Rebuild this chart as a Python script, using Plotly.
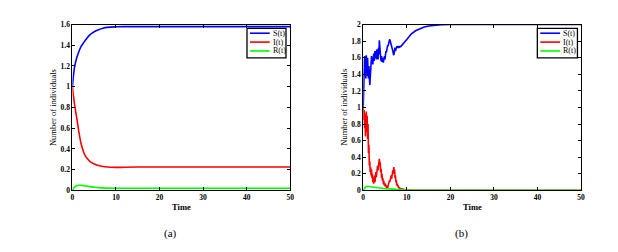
import plotly.graph_objects as go

W, H = 618, 252
OFF = 8  # page body margin in the browser

# ---------------- Panel (a): deterministic ----------------
t_a = [0, 0.25, 0.5, 0.75, 1, 1.5, 2, 2.5, 3, 4, 5, 6, 7, 8, 10, 12, 15, 20, 30, 40, 50]
S_a = [1.0, 1.11, 1.19, 1.24, 1.28, 1.34, 1.39, 1.42, 1.45, 1.50, 1.53, 1.55, 1.565, 1.573, 1.578, 1.58, 1.58, 1.58, 1.58, 1.58, 1.58]
I_a = [1.0, 0.91, 0.83, 0.76, 0.70, 0.56, 0.45, 0.38, 0.33, 0.28, 0.255, 0.24, 0.23, 0.225, 0.222, 0.223, 0.225, 0.225, 0.225, 0.225, 0.225]
R_a = [0.0, 0.02, 0.032, 0.041, 0.046, 0.05, 0.049, 0.046, 0.042, 0.036, 0.031, 0.027, 0.024, 0.022, 0.021, 0.021, 0.021, 0.021, 0.021, 0.021, 0.021]

# ---------------- Panel (b): stochastic ----------------
t_b_noisy = [round(0.1 * k, 1) for k in range(91)]  # 0.0 .. 9.0
S_b_noisy = [1.00, 1.35, 1.55, 1.62, 1.40, 1.58, 1.35, 1.63, 1.45, 1.38,
             1.60, 1.42, 1.35, 1.50, 1.30, 1.27, 1.35, 1.48, 1.58, 1.62,
             1.55, 1.60, 1.52, 1.58, 1.65, 1.56, 1.62, 1.68, 1.60, 1.66,
             1.58, 1.70, 1.62, 1.68, 1.58, 1.72, 1.64, 1.81, 1.65, 1.70,
             1.60, 1.56, 1.62, 1.55, 1.60, 1.58, 1.54, 1.60, 1.56, 1.62,
             1.58, 1.65, 1.68, 1.66, 1.72, 1.70, 1.75, 1.74, 1.78, 1.80,
             1.81, 1.82, 1.80, 1.81, 1.78, 1.76, 1.74, 1.72, 1.68, 1.65,
             1.63, 1.66, 1.70, 1.72, 1.68, 1.70, 1.73, 1.74, 1.72, 1.73,
             1.74, 1.72, 1.73, 1.74, 1.73, 1.73, 1.735, 1.74, 1.745, 1.75,
             1.755]
I_b_noisy = [1.00, 0.85, 0.97, 0.75, 0.92, 0.65, 0.88, 0.95, 0.70, 0.90,
             0.62, 0.80, 0.45, 0.55, 0.30, 0.35, 0.22, 0.28, 0.18, 0.25,
             0.15, 0.20, 0.10, 0.14, 0.08, 0.12, 0.18, 0.10, 0.15, 0.22,
             0.16, 0.25, 0.20, 0.30, 0.24, 0.33, 0.28, 0.38, 0.30, 0.34,
             0.22, 0.26, 0.15, 0.20, 0.12, 0.15, 0.08, 0.12, 0.06, 0.09,
             0.05, 0.08, 0.04, 0.06, 0.03, 0.05, 0.03, 0.06, 0.05, 0.09,
             0.12, 0.10, 0.15, 0.12, 0.18, 0.14, 0.20, 0.18, 0.24, 0.20,
             0.28, 0.22, 0.25, 0.15, 0.18, 0.10, 0.12, 0.06, 0.08, 0.05,
             0.06, 0.03, 0.04, 0.02, 0.03, 0.02, 0.02, 0.015, 0.02, 0.01,
             0.015]
R_b_noisy = [0.000, 0.012, 0.022, 0.030, 0.036, 0.041, 0.044, 0.046, 0.048, 0.049,
             0.050, 0.049, 0.048, 0.047, 0.046, 0.045, 0.044, 0.043, 0.042, 0.041,
             0.040, 0.039, 0.038, 0.037, 0.036, 0.035, 0.034, 0.034, 0.033, 0.033,
             0.032, 0.032, 0.031, 0.031, 0.030, 0.030, 0.030, 0.029, 0.029, 0.028,
             0.027, 0.027, 0.026, 0.025, 0.024, 0.024, 0.023, 0.022, 0.021, 0.021,
             0.020, 0.019, 0.019, 0.018, 0.017, 0.017, 0.016, 0.016, 0.015, 0.015,
             0.015, 0.015, 0.015, 0.015, 0.015, 0.015, 0.015, 0.016, 0.016, 0.016,
             0.016, 0.016, 0.016, 0.015, 0.015, 0.014, 0.014, 0.013, 0.013, 0.012,
             0.012, 0.011, 0.011, 0.010, 0.010, 0.009, 0.009, 0.008, 0.008, 0.008,
             0.007]
t_b_tail = [9.5, 10, 10.5, 11, 12, 13, 14, 15, 16, 18, 20, 25, 30, 40, 50]
S_b_tail = [1.79, 1.82, 1.86, 1.885, 1.925, 1.952, 1.970, 1.983, 1.990, 1.997, 2.0, 2.0, 2.0, 2.0, 2.0]
I_b_tail = [0.01, 0.005, 0.003, 0.002, 0.001, 0, 0, 0, 0, 0, 0, 0, 0, 0, 0]
R_b_tail = [0.006, 0.005, 0.004, 0.003, 0.002, 0.001, 0, 0, 0, 0, 0, 0, 0, 0, 0]

t_b = t_b_noisy + t_b_tail
S_b = S_b_noisy + S_b_tail
I_b = I_b_noisy + I_b_tail
R_b = R_b_noisy + R_b_tail

x_ticks = [0, 10, 20, 30, 40, 50]
y_ticks_a = [0, 0.2, 0.4, 0.6, 0.8, 1, 1.2, 1.4, 1.6]
y_ticks_b = [0, 0.2, 0.4, 0.6, 0.8, 1, 1.2, 1.4, 1.6, 1.8, 2]
labels = ["S(t)", "I(t)", "R(t)"]
colors = ["#0000ff", "#ff0000", "#00ff00"]
x_title = "Time"
y_title = "Number of individuals"
captions = ["(a)", "(b)"]


def px(x):
    return (x - OFF) / W


def py(y):
    return 1 - (y - OFF) / H


fig = go.Figure()
for series, c, name in zip([S_a, I_a, R_a], colors, labels):
    fig.add_trace(go.Scatter(x=t_a, y=series, mode="lines", line=dict(color=c, width=1.6, shape="spline"),
                             name=name, xaxis="x", yaxis="y", showlegend=False))
for series, c, name in zip([S_b, I_b, R_b], colors, labels):
    fig.add_trace(go.Scatter(x=t_b, y=series, mode="lines", line=dict(color=c, width=1.6),
                             name=name, xaxis="x2", yaxis="y2", showlegend=False))

tickfont = dict(family="Liberation Serif", size=7.5, color="black", weight="bold")
ax_common = dict(showline=True, linecolor="black", linewidth=1, mirror="ticks", ticks="inside",
                 ticklen=3, tickcolor="black", showgrid=False, zeroline=False, tickfont=tickfont)

dom_a = [px(71), px(291)]
dom_b = [px(364.7), px(584.7)]
dom_y = [py(193), py(21)]

fig.update_layout(
    width=W, height=H, margin=dict(l=0, r=0, t=0, b=0),
    paper_bgcolor="white", plot_bgcolor="white",
    xaxis=dict(domain=dom_a, range=[0, 50], tickvals=x_ticks, anchor="y", **ax_common),
    yaxis=dict(domain=dom_y, range=[0, 1.6], tickvals=y_ticks_a, anchor="x", **ax_common),
    xaxis2=dict(domain=dom_b, range=[0, 50], tickvals=x_ticks, anchor="y2", **ax_common),
    yaxis2=dict(domain=dom_y, range=[0, 2], tickvals=y_ticks_b, anchor="x2", **ax_common),
)

ann = []
shapes = []
for (xl, xr), cap, ytx in [((71, 291), captions[0], 52), ((364.7, 584.7), captions[1], 345.5)]:
    xc = (xl + xr) / 2
    ann.append(dict(x=px(xc), y=py(210), xref="paper", yref="paper", text=x_title, showarrow=False,
                    xanchor="center", yanchor="middle",
                    font=dict(family="Liberation Serif", size=8.5, color="black", weight="bold")))
    ann.append(dict(x=px(ytx), y=py(107), xref="paper", yref="paper", text=y_title, showarrow=False,
                    xanchor="center", yanchor="middle",
                    textangle=-90, font=dict(family="Liberation Serif", size=8.5, color="black")))
    ann.append(dict(x=px(xc - 11), y=py(238), xref="paper", yref="paper", text=cap, showarrow=False,
                    xanchor="center", yanchor="middle",
                    font=dict(family="Liberation Serif", size=11, color="black")))

# legend boxes
for bx0, bx1 in [(247.3, 286.7), (540.5, 581)]:
    by0, by1 = 25, 55.5
    shapes.append(dict(type="rect", xref="paper", yref="paper", x0=px(bx0), x1=px(bx1),
                       y0=py(by1), y1=py(by0), line=dict(color="black", width=1.3), fillcolor="white"))
    for k, (lab, c) in enumerate(zip(labels, colors)):
        yy = 30 + 9.2 * k
        shapes.append(dict(type="line", xref="paper", yref="paper", x0=px(bx0 + 3), x1=px(bx0 + 23),
                           y0=py(yy), y1=py(yy), line=dict(color=c, width=1.6)))
        ann.append(dict(x=px(bx0 + 24), y=py(yy), xref="paper", yref="paper", text=lab, showarrow=False,
                        xanchor="left", yanchor="middle",
                        font=dict(family="Liberation Serif", size=8, color="black")))

fig.update_layout(annotations=ann, shapes=shapes)
fig.write_html("out.html")
